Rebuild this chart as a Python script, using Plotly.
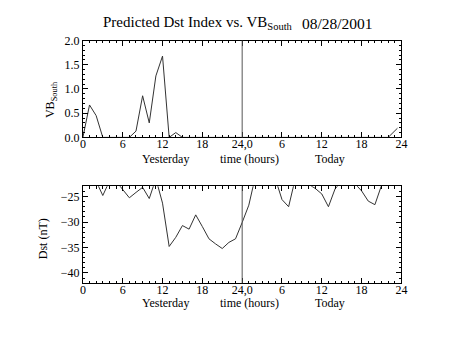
import plotly.graph_objects as go

# ---- data ----
vb_hours = list(range(47)) + [47.4]
vb_south = [0.0, 0.67, 0.45, 0.0, 0.0, 0.0, 0.0, 0.0, 0.13, 0.86, 0.30, 1.27, 1.68,
            0.0, 0.10, 0.0] + [0.0] * 31 + [0.19]

dst_hours = list(range(48))
dst_values = [-22.0, -22.0, -22.0, -24.8, -22.0, -22.0, -23.6, -25.25, -24.2, -23.2,
              -25.4, -21.5, -26.3, -34.8, -33.0, -30.7, -31.4, -28.6, -30.9, -33.3,
              -34.3, -35.2, -34.0, -33.3, -30.1, -26.7, -21.0, -21.0, -22.0, -21.5,
              -25.6, -27.0, -21.5, -22.0, -22.6, -23.4, -24.5, -27.0, -23.5, -22.0,
              -22.0, -22.5, -23.9, -25.9, -26.6, -22.8, -21.0, -21.0]

tick_vals = [0, 6, 12, 18, 24, 30, 36, 42, 48]
tick_text = ["0", "6", "12", "18", "24,0", "6", "12", "18", "24"]

vb_ticks = [0.0, 0.5, 1.0, 1.5, 2.0]
dst_ticks = [-40, -35, -30, -25]

title_left = "Predicted Dst Index vs. VB<sub>South</sub>"
title_date = "08/28/2001"
vb_label = "VB<sub>South</sub>"
dst_label = "Dst (nT)"
x_words = ["Yesterday", "time (hours)", "Today"]

FONT = "Liberation Serif"
LINE = "#333333"
W, H = 454, 341

fig = go.Figure()
fig.add_trace(go.Scatter(x=vb_hours, y=vb_south, mode="lines",
                         line=dict(color=LINE, width=1), xaxis="x", yaxis="y",
                         showlegend=False))
fig.add_trace(go.Scatter(x=dst_hours, y=dst_values, mode="lines",
                         line=dict(color=LINE, width=1), xaxis="x2", yaxis="y2",
                         showlegend=False))

xdom = [81.5 / W, 406.5 / W]
top_dom = [1 - 136 / H, 1 - 35 / H]
bot_dom = [1 - 288 / H, 1 - 187 / H]

common_x = dict(range=[0, 48], tickmode="array", tickvals=tick_vals, ticktext=tick_text,
                ticks="inside", ticklen=5, tickcolor="black", showline=True,
                linecolor="black", linewidth=1, mirror="ticks", showgrid=False,
                zeroline=False, tickfont=dict(family=FONT, size=12, color="black"),
                ticklabelstandoff=-5,
                minor=dict(dtick=1, tick0=0, ticks="inside", ticklen=2.5, tickcolor="black"),
                domain=xdom, fixedrange=True)
common_y = dict(ticks="inside", ticklen=5, tickcolor="black", showline=True,
                linecolor="black", linewidth=1, mirror="ticks", showgrid=False,
                zeroline=False, tickfont=dict(family=FONT, size=12, color="black"),
                fixedrange=True)

fig.update_layout(
    width=W, height=H, margin=dict(l=0, r=0, t=0, b=0),
    paper_bgcolor="white", plot_bgcolor="white",
    xaxis=dict(common_x, anchor="y"),
    xaxis2=dict(common_x, anchor="y2"),
    yaxis=dict(common_y, range=[0, 2.0], tickvals=vb_ticks,
               ticktext=["%.1f" % v for v in vb_ticks], domain=top_dom, anchor="x",
               minor=dict(dtick=0.1, tick0=0, ticks="inside", ticklen=2.5, tickcolor="black")),
    yaxis2=dict(common_y, range=[-42, -23], tickvals=dst_ticks,
                ticktext=["\u2212%d" % abs(v) for v in dst_ticks], domain=bot_dom, anchor="x2",
                minor=dict(dtick=1, tick0=0, ticks="inside", ticklen=2.5, tickcolor="black")),
    shapes=[
        dict(type="line", xref="x", yref="y domain", x0=24, x1=24, y0=0, y1=1,
             line=dict(color="#555555", width=1)),
        dict(type="line", xref="x2", yref="y2 domain", x0=24, x1=24, y0=0, y1=1,
             line=dict(color="#555555", width=1)),
    ],
)

ann = []
ann.append(dict(text=title_left, x=100 / W, y=1 - 17 / H, xref="paper", yref="paper",
                xanchor="left", yanchor="middle", showarrow=False,
                font=dict(family=FONT, size=15, color="black")))
ann.append(dict(text=title_date, x=303 / W, y=1 - 17 / H, xref="paper", yref="paper",
                xanchor="left", yanchor="middle", showarrow=False,
                font=dict(family=FONT, size=15.5, color="black")))
ann.append(dict(text=vb_label, x=49 / W, y=1 - 97 / H, xref="paper", yref="paper",
                xanchor="center", yanchor="middle", showarrow=False, textangle=-90,
                font=dict(family=FONT, size=12, color="black")))
ann.append(dict(text=dst_label, x=41 / W, y=1 - 242 / H, xref="paper", yref="paper",
                xanchor="center", yanchor="middle", showarrow=False, textangle=-90,
                font=dict(family=FONT, size=12, color="black")))
for yc in (158, 309):
    for word, xc in zip(x_words, (166, 251, 334)):
        ann.append(dict(text=word, x=xc / W, y=1 - yc / H, xref="paper", yref="paper",
                        xanchor="center", yanchor="middle", showarrow=False,
                        font=dict(family=FONT, size=12, color="black")))
fig.update_layout(annotations=ann)

fig.write_html("out.html")
